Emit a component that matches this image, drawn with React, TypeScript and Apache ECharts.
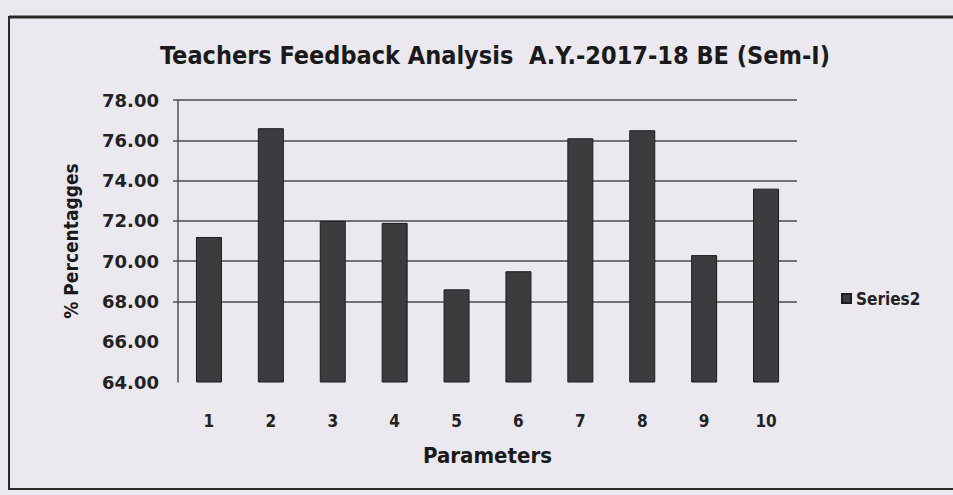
import React, { useEffect, useRef } from "react";
import * as echarts from "echarts";

const categories = ["1", "2", "3", "4", "5", "6", "7", "8", "9", "10"];
const series2 = [71.2, 76.6, 72.0, 71.9, 68.6, 69.5, 76.1, 76.5, 70.3, 73.6];
const gridLevels = [68, 70, 72, 74, 76, 78];
const titleText = "Teachers Feedback Analysis  A.Y.-2017-18 BE (Sem-I)";

const FONT = "'DejaVu Sans Condensed', 'Open Sans', sans-serif";
const WIDE = "'DejaVu Sans', 'Open Sans', sans-serif";

export default function App() {
  const ref = useRef<HTMLDivElement>(null);
  useEffect(() => {
    if (!ref.current) return;
    const chart = echarts.init(ref.current, undefined, { renderer: "svg" });
    chart.setOption({
      animation: false,
      backgroundColor: "#ebe8f0",
      textStyle: { fontFamily: FONT },
      title: {
        text: titleText,
        left: 490,
        textAlign: "center",
        top: 38,
        textStyle: { fontSize: 25, fontWeight: "bold", color: "#1a1a1a", fontFamily: FONT },
      },
      legend: {
        data: ["Series2"],
        orient: "vertical",
        left: 836,
        top: 285,
        icon: "rect",
        itemWidth: 9,
        itemHeight: 9,
        itemGap: 4,
        textStyle: { fontSize: 17, fontWeight: "bold", color: "#222", fontFamily: FONT },
      },
      grid: { left: 178, right: 156, top: 100, bottom: 113 },
      xAxis: {
        type: "category",
        data: categories,
        name: "Parameters",
        nameLocation: "middle",
        nameGap: 62,
        nameTextStyle: { fontSize: 22, fontWeight: "bold", color: "#1a1a1a", fontFamily: FONT },
        axisLine: { show: false },
        axisTick: { show: false },
        axisLabel: { fontSize: 17, fontWeight: "bold", color: "#222", margin: 30, fontFamily: FONT },
      },
      yAxis: {
        type: "value",
        min: 64,
        max: 78,
        interval: 2,
        name: "% Percentagges",
        nameLocation: "middle",
        nameGap: 98,
        nameRotate: 90,
        nameTextStyle: { fontSize: 19, fontWeight: "bold", color: "#1a1a1a", fontFamily: FONT },
        axisLine: { show: true, lineStyle: { color: "#555", width: 1.5 } },
        axisTick: { show: true, length: 5, customValues: gridLevels, lineStyle: { color: "#555", width: 1.5 } },
        splitLine: { show: false },
        axisLabel: {
          fontSize: 18,
          fontWeight: "bold",
          color: "#222",
          margin: 19,
          fontFamily: WIDE,
          formatter: (v: number) => v.toFixed(2),
        },
      },
      series: [
        {
          name: "Series2",
          type: "bar",
          data: series2,
          barWidth: 26,
          itemStyle: { color: "#3c3c3f", borderColor: "#1c1c1e", borderWidth: 1 },
          markLine: {
            silent: true,
            symbol: "none",
            label: { show: false },
            lineStyle: { color: "#4a4a4a", width: 1.5, type: "solid" },
            data: gridLevels.map((v) => ({ yAxis: v })),
            z: 1,
          },
          z: 3,
        },
      ],
      graphic: [
        {
          type: "rect",
          shape: { x: 9, y: 17, width: 960, height: 472 },
          style: { fill: "none", stroke: "#2a2a2a", lineWidth: 2 },
          silent: true,
        },
        {
          type: "line",
          shape: { x1: 9, y1: 17, x2: 953, y2: 17 },
          style: { stroke: "#2a2a2a", lineWidth: 3 },
          silent: true,
        },
      ],
    });
    return () => chart.dispose();
  }, []);
  return (
    <div
      ref={ref}
      style={{ position: "fixed", left: 0, top: 0, width: 953, height: 495 }}
    />
  );
}
